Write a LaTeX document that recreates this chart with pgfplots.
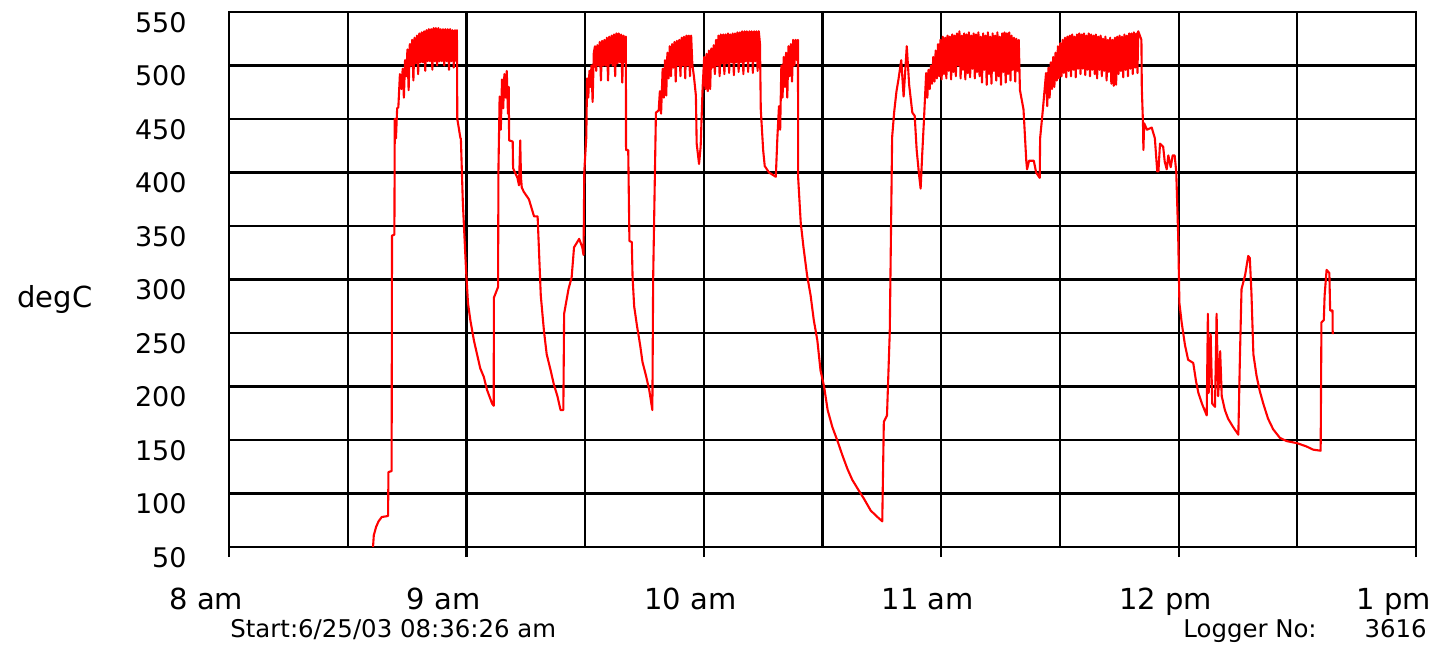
\documentclass[border=0pt]{standalone}
\usepackage{fontspec}
\setmainfont{DejaVu Sans}
\usepackage{pgfplots}
\pgfplotsset{compat=1.18}

% logger trace, minutes after 8 am vs degC
\pgfplotstableread{
t v
36.4 50
36.6 61
37.2 69
37.8 74
38.6 78
40.2 79
40.3 120
41.1 121
41.2 341
41.8 342
41.9 450
42.2 432
42.5 460
42.8 461
43.2 492
43.6 478
43.9 497
44.2 470
44.5 505
44.8 490
45.1 515
45.4 477
45.7 520
46.0 500
46.3 524
46.6 486
46.9 526
47.2 502
47.5 528
47.8 492
48.1 530
48.4 503
48.7 531
49.0 503
49.3 532
49.6 495
49.9 533
50.2 504
50.5 534
50.8 504
51.1 534
51.4 496
51.7 535
52.0 504
52.3 535
52.6 500
52.9 535
53.2 504
53.5 534
53.8 504
54.1 534
54.4 500
54.7 534
55.0 504
55.3 534
55.6 496
55.9 534
56.2 504
56.5 533
56.8 498
57.1 533
57.4 504
57.6 533
57.7 450
58.5 432
58.6 432
59.1 372
59.9 310
60.4 278
61.0 262
61.9 243
62.7 230
63.5 217
64.4 209
65.2 197
66.5 184
66.9 182
66.95 283
68.0 293
68.1 403
68.4 471
68.7 440
69.0 487
69.3 460
69.6 492
69.9 470
70.2 495
70.5 455
70.7 480
70.8 430
71.7 429
71.8 404
72.9 395
73.3 388
73.6 430
73.8 395
74.0 386
74.5 382
75.8 375
77.1 359
78.0 359
78.8 285
79.6 252
80.3 230
81.3 215
82.1 202
83.0 191
83.8 178
84.5 178
84.7 268
85.8 291
86.6 302
87.2 330
88.5 338
89.3 330
89.6 323
89.8 401
90.3 433
90.5 488
90.8 470
91.1 495
91.4 480
91.6 500
91.9 466
92.2 512
92.5 518
92.8 495
93.1 519
93.4 500
93.7 522
94.0 486
94.3 523
94.6 500
94.9 524
95.2 500
95.5 526
95.8 486
96.1 527
96.4 502
96.7 528
97.0 500
97.3 529
97.6 490
97.9 530
98.2 502
98.5 530
98.8 503
99.1 529
99.4 484
99.7 528
100.0 503
100.3 527
100.35 421
100.9 421
101.2 336
101.8 335
102.0 302
102.4 275
103.1 257
103.9 239
104.5 223
105.4 210
106.2 197
107.0 178
107.2 301
107.9 456
108.6 458
108.9 476
109.2 455
109.6 497
109.9 470
110.2 505
110.5 472
110.8 512
111.1 488
111.4 518
111.7 490
112.0 520
112.3 498
112.6 522
112.9 485
113.2 523
113.5 500
113.8 524
114.1 490
114.4 526
114.7 500
115.0 527
115.3 488
115.6 528
115.9 500
116.2 528
116.5 490
116.8 528
117.1 501
117.5 490
118.0 472
118.2 427
118.8 408
119.2 424
119.7 479
120.1 508
120.4 478
120.7 511
121.0 476
121.3 514
121.6 478
121.9 516
122.2 498
122.5 519
122.8 492
123.1 524
123.4 500
123.7 528
124.0 490
124.3 529
124.6 502
124.9 529
125.2 492
125.5 529
125.8 502
126.1 530
126.4 493
126.7 529
127.0 503
127.3 530
127.6 491
127.9 530
128.2 503
128.5 531
128.8 494
129.1 531
129.4 503
129.7 532
130.0 492
130.3 532
130.6 504
130.9 532
131.2 494
131.5 532
131.8 504
132.1 532
132.4 493
132.7 532
133.0 504
133.3 532
133.6 495
133.9 532
134.2 520
134.4 459
135.0 421
135.4 406
136.5 400
138.2 396
138.6 433
139.0 462
139.3 440
139.6 500
139.9 470
140.2 508
140.5 480
140.8 512
141.1 470
141.4 518
141.7 490
142.0 520
142.3 485
142.6 524
142.9 500
143.2 524
143.5 505
143.8 524
143.85 395
144.5 353
145.2 330
146.1 304
147.0 285
147.8 262
148.7 243
149.5 215
150.4 200
151.3 178
152.5 162
153.8 149
155.0 136
156.3 123
157.5 113
158.8 105
160.5 95
162.2 84
163.9 78
165.1 74
165.5 167
166.3 173
167.0 251
167.6 433
168.1 456
168.7 476
169.2 487
169.9 505
170.5 471
171.3 518
171.9 482
172.7 456
173.3 453
173.8 421
174.4 398
174.8 385
175.2 417
175.6 446
176.2 493
176.5 470
176.8 496
177.1 478
177.4 500
177.7 483
178.0 508
178.3 485
178.6 514
178.9 488
179.2 520
179.5 490
179.8 524
180.1 487
180.4 527
180.7 492
181.0 526
181.3 488
181.6 528
181.9 495
182.2 527
182.5 487
182.8 529
183.1 494
183.4 528
183.7 490
184.0 530
184.3 500
184.6 532
184.9 488
185.2 528
185.5 496
185.8 530
186.1 487
186.4 529
186.7 493
187.0 531
187.3 489
187.6 528
187.9 497
188.2 530
188.5 488
188.8 529
189.1 494
189.4 531
189.7 490
190.0 527
190.3 484
190.6 530
190.9 496
191.2 528
191.5 482
191.8 531
192.1 492
192.4 527
192.7 483
193.0 530
193.3 495
193.6 528
193.9 486
194.2 531
194.5 490
194.8 527
195.1 482
195.4 530
195.7 494
196.0 531
196.3 484
196.6 530
196.9 492
197.2 531
197.5 486
197.8 528
198.1 496
198.4 526
198.7 485
199.0 525
199.3 495
199.6 524
199.9 477
200.8 459
201.5 411
201.7 403
202.2 411
203.4 411
204.0 400
204.9 395
205.0 432
205.7 459
206.5 493
206.8 462
207.1 498
207.4 470
207.7 503
208.0 478
208.3 508
208.6 480
208.9 512
209.2 486
209.5 518
209.8 488
210.1 521
210.4 490
210.7 524
211.0 493
211.3 526
211.6 489
211.9 527
212.2 495
212.5 528
212.8 490
213.1 529
213.4 496
213.7 527
214.0 489
214.3 529
214.6 497
214.9 530
215.2 492
215.5 529
215.8 497
216.1 530
216.4 491
216.7 528
217.0 496
217.3 530
217.6 490
217.9 529
218.2 496
218.5 528
218.8 492
219.1 529
219.4 488
219.7 527
220.0 496
220.3 528
220.6 490
220.9 525
221.2 495
221.5 527
221.8 486
222.1 524
222.4 494
222.7 526
223.0 483
223.3 524
223.6 481
223.9 526
224.2 482
224.5 527
224.8 492
225.1 528
225.4 495
225.7 527
226.0 489
226.3 529
226.6 496
226.9 528
227.2 490
227.5 530
227.8 497
228.1 530
228.4 492
228.7 531
229.0 498
229.3 530
229.6 493
229.8 532
230.6 524
230.7 479
231.0 446
231.1 421
231.3 446
232.0 440
233.2 442
234.0 432
234.6 401
234.9 401
235.3 427
236.1 424
236.5 410
237.0 403
237.4 416
238.0 405
238.5 416
239.0 416
239.4 401
239.9 340
240.2 278
240.8 259
241.6 239
242.4 225
243.7 222
244.4 205
245.0 194
245.9 184
247.1 173
247.4 268
247.6 194
248.1 249
248.5 184
249.2 181
249.6 268
250.0 191
250.5 233
250.9 191
251.7 178
252.5 170
253.8 162
255.1 155
255.5 228
255.9 291
256.8 304
257.6 322
258.0 320
258.4 288
258.9 230
259.7 210
260.5 196
261.4 184
262.6 170
263.9 160
265.6 152
267.3 149
270.0 147
272.3 144
274.0 141
275.9 140
276.1 260
276.7 262
276.9 285
277.4 309
278.1 306
278.3 271
278.9 271
278.95 249
}\trace

\begin{document}
\begin{tikzpicture}
\useasboundingbox (-114.5pt,-54pt) rectangle (605pt,273.5pt);
\begin{axis}[
  at={(0,0)}, anchor=south west,
  width=593.5pt, height=267.5pt, scale only axis,
  xmin=0, xmax=300, ymin=50, ymax=550,
  xtick={0,60,...,300},
  xticklabels={8 am,9 am,10 am,11 am,12 pm,1 pm},
  minor xtick={30,90,...,270},
  ytick={50,100,...,550},
  xtick pos=bottom, ytick pos=left,
  tick align=outside,
  major tick length=5pt, minor tick length=0pt,
  ytick style={draw=none},
  xtick style={black, line width=1.1pt},
  grid=both,
  major grid style={black, line width=1.1pt},
  minor grid style={black, line width=1.1pt},
  axis line style={black, line width=1.1pt},
  /pgf/number format/assume math mode=true,
  yticklabel style={anchor=base east, inner sep=0pt, xshift=-16pt, yshift=-10pt,
    font=\fontsize{13.5}{16}\selectfont},
  xticklabel style={anchor=base west, inner sep=0pt, xshift=-30pt, yshift=-26pt,
    font=\fontsize{14.5}{17}\selectfont},
]
  \addplot[red, line width=1.05pt, line join=round, no markers] table[x=t, y=v] {\trace};
\end{axis}
\node[anchor=base, inner sep=0pt, font=\fontsize{14.5}{17}\selectfont] at (-87pt,120pt) {degC};
\node[anchor=base west, inner sep=0pt, font=\fontsize{12.2}{14}\selectfont] at (0.5pt,-45pt) {Start:6/25/03 08:36:26 am};
\node[anchor=base west, inner sep=0pt, font=\fontsize{12.2}{14}\selectfont] at (477pt,-45pt) {Logger No:};
\node[anchor=base east, inner sep=0pt, font=\fontsize{12.2}{14}\selectfont] at (599pt,-45pt) {3616};
\end{tikzpicture}
\end{document}
